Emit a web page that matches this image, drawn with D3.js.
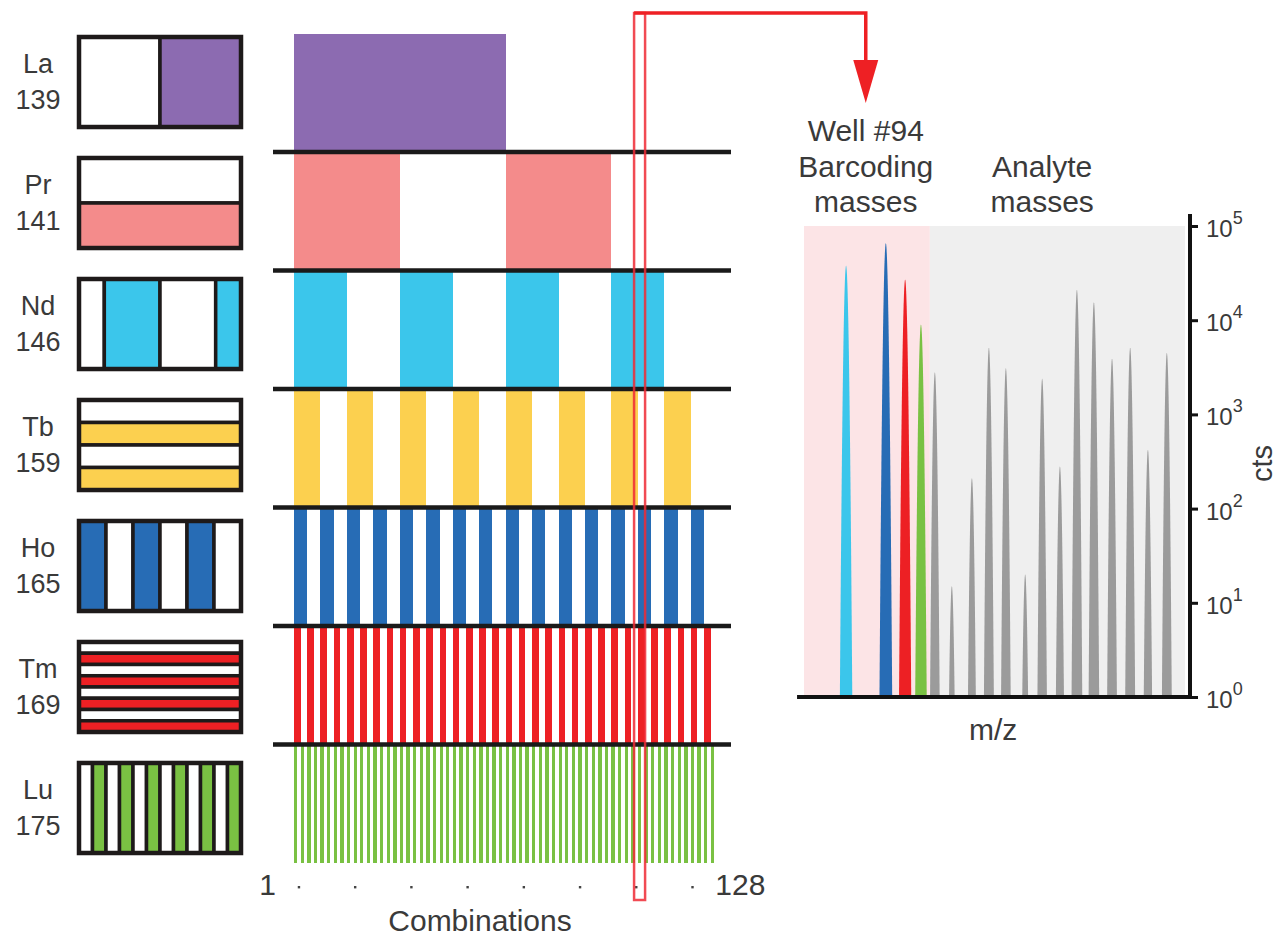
<!DOCTYPE html>
<html><head><meta charset="utf-8">
<script src="https://cdn.jsdelivr.net/npm/d3@7"></script>
<style>body{margin:0;background:#fff}</style>
</head><body><svg id="chart" width="1278" height="940"></svg>
<script>
// ---------------- data ----------------
const elements = ["La","Pr","Nd","Tb","Ho","Tm","Lu"];
const masses = ["139","141","146","159","165","169","175"];
const elementColors = ["#8C6BB1","#F48B8B","#3BC6EB","#FCD04F","#276CB5","#ED2024","#7AC143"];
const blockSizes = [64,32,16,8,4,2,1];           // barcode on/off run length per element
const combinationCount = 128;
const iconOrient = ["v","h","v","h","v","h","v"];
const iconCells = [
  [0,1],[0,1],[0,1,0,1],[0,1,0,1],[1,0,1,0,1,0],
  [0,1,0,1,0,1,0,1],[0,1,0,1,0,1,0,1,0,1,0,1]
];
const iconWeights = [null,null,[1,2.2,2.2,1],null,null,null,null];
const axisEndLabels = ["1","128"];
const axisDotCombos = [2,19,36,53,70,87,104,121];
const selectedCombo = 105;
const wellTitle = ["Well #94","Barcoding","masses"];
const analyteTitle = ["Analyte","masses"];

// spectrum (x in arbitrary m/z units 0..100)
const barcodePeakPos = [10.9,21.2,26.2,30.3];
const barcodePeakCounts = [38000,66000,27000,9000];
const barcodePeakColors = ["#3BC6EB","#276CB5","#ED2024","#7AC143"];
const analytePeakPos = [33.9,38.3,43.5,47.9,52.3,57.3,61.7,66.3,70.7,75.1,79.8,84.5,89.1,94.0];
const analytePeakCounts = [2800,15,210,5100,3100,20,2400,280,21000,15500,3900,5100,420,4500];
const barcodeRegion = [0,32.6];
const analyteRegion = [32.6,98.7];
const yTickPowers = [0,1,2,3,4,5];

// ---------------- setup ----------------
const svg = d3.select("#chart");
const FONT = "'Liberation Sans', Arial, Helvetica, sans-serif";
const TXT = "#3a3a3a";

// ---------------- left icons ----------------
const iconY = d3.scaleBand().domain(elements).range([37, 853]).paddingInner(0.256).paddingOuter(0);
const iconX = [79, 241];
const iconG = svg.append("g");
elements.forEach((el, k) => {
  const y0 = iconY(el), h = iconY.bandwidth();
  const g = iconG.append("g");
  const cells = iconCells[k];
  const w = iconWeights[k] || cells.map(() => 1);
  const total = d3.sum(w);
  const horiz = iconOrient[k] === "h";
  const len = horiz ? h : (iconX[1] - iconX[0]);
  let acc = 0;
  cells.forEach((c, i) => {
    const a = acc / total * len, b = (acc + w[i]) / total * len;
    acc += w[i];
    g.append("rect")
      .attr("x", horiz ? iconX[0] : iconX[0] + a)
      .attr("y", horiz ? y0 + a : y0)
      .attr("width", horiz ? iconX[1] - iconX[0] : b - a)
      .attr("height", horiz ? b - a : h)
      .attr("fill", c ? elementColors[k] : "#fff")
      .attr("stroke", "#1e1a1a").attr("stroke-width", 3.5);
  });
  g.append("rect").attr("x", iconX[0]).attr("y", y0)
    .attr("width", iconX[1] - iconX[0]).attr("height", h)
    .attr("fill", "none").attr("stroke", "#1e1a1a").attr("stroke-width", 4.5);
  const t = svg.append("text").attr("font-family", FONT).attr("font-size", 27)
    .attr("fill", TXT).attr("text-anchor", "middle");
  t.append("tspan").attr("x", 38).attr("y", y0 + 36).text(el);
  t.append("tspan").attr("x", 38).attr("y", y0 + 72).text(masses[k]);
});

// ---------------- barcode bars ----------------
const xc = d3.scaleBand().domain(d3.range(combinationCount)).range([294, 717.3]).padding(0);
const rowY = d3.scaleBand().domain(elements).range([33.5, 863]).padding(0);
const barG = svg.append("g");
elements.forEach((el, k) => {
  const bs = blockSizes[k];
  const starts = d3.range(0, combinationCount, 2 * bs);
  barG.selectAll(null).data(starts).enter().append("rect")
    .attr("x", d => xc(d))
    .attr("width", xc.bandwidth() * bs)
    .attr("y", rowY(el))
    .attr("height", rowY.bandwidth())
    .attr("fill", elementColors[k])
    .attr("shape-rendering", "crispEdges");
});
// separators
barG.selectAll(null).data(elements.slice(1)).enter().append("line")
  .attr("x1", 273).attr("x2", 731)
  .attr("y1", d => rowY(d)).attr("y2", d => rowY(d))
  .attr("stroke", "#1a1a1a").attr("stroke-width", 4.5);

// combination axis
svg.append("text").attr("x", xc(0) - 18).attr("y", 895).attr("text-anchor", "end")
  .attr("font-family", FONT).attr("font-size", 30).attr("fill", TXT).text(axisEndLabels[0]);
svg.append("text").attr("x", xc(combinationCount - 1) + xc.bandwidth() - 2).attr("y", 895).attr("text-anchor", "start")
  .attr("font-family", FONT).attr("font-size", 30).attr("fill", TXT).text(axisEndLabels[1]);
svg.selectAll(null).data(axisDotCombos).enter().append("rect")
  .attr("x", d => xc(d - 1) + xc.bandwidth() / 2 - 1.2).attr("y", 886)
  .attr("width", 2.4).attr("height", 2.4).attr("fill", "#444");
svg.append("text").attr("x", 480).attr("y", 931).attr("text-anchor", "middle")
  .attr("font-family", FONT).attr("font-size", 30).attr("fill", TXT).text("Combinations");

// ---------------- spectrum ----------------
const sx = d3.scaleLinear().domain([0, 100]).range([804, 1190]);
const sy = d3.scaleLog().domain([1, 1e5]).range([697, 226]);

svg.append("rect").attr("x", sx(barcodeRegion[0])).attr("y", sy(1e5))
  .attr("width", sx(barcodeRegion[1]) - sx(barcodeRegion[0])).attr("height", sy(1) - sy(1e5))
  .attr("fill", "#FCE4E6");
svg.append("rect").attr("x", sx(analyteRegion[0])).attr("y", sy(1e5))
  .attr("width", sx(analyteRegion[1]) - sx(analyteRegion[0])).attr("height", sy(1) - sy(1e5))
  .attr("fill", "#EFEFEF");

function peakPath(pos, A, sigmaPx) {
  const sigma = sigmaPx / (sx(1) - sx(0));
  const hw = sigma * Math.sqrt(2 * Math.log(A));
  const pts = d3.range(0, 41).map(i => -hw + 2 * hw * i / 40);
  const area = d3.area()
    .x(d => sx(pos + d))
    .y0(sy(1))
    .y1(d => sy(Math.max(1, A * Math.exp(-d * d / (2 * sigma * sigma)))));
  return area(pts);
}
const peakG = svg.append("g");
analytePeakPos.forEach((p, i) => {
  peakG.append("path").attr("d", peakPath(p, analytePeakCounts[i], 1.2)).attr("fill", "#9B9B9B");
});
barcodePeakPos.forEach((p, i) => {
  peakG.append("path").attr("d", peakPath(p, barcodePeakCounts[i], 1.35)).attr("fill", barcodePeakColors[i]);
});

// axes
svg.append("line").attr("x1", sx(-1.8)).attr("x2", sx(100)).attr("y1", sy(1)).attr("y2", sy(1))
  .attr("stroke", "#111").attr("stroke-width", 4);
const yAxis = d3.axisRight(sy).tickValues(yTickPowers.map(p => Math.pow(10, p))).tickSize(8).tickFormat("");
const yg = svg.append("g").attr("transform", `translate(${sx(100)},0)`).call(yAxis);
yg.select(".domain").attr("stroke", "#111").attr("stroke-width", 4).attr("d", `M0,${sy(1e5) - 12}V${sy(1) + 2}`);
yg.selectAll(".tick line").attr("stroke", "#111").attr("stroke-width", 3);
yTickPowers.forEach(p => {
  const t = svg.append("text").attr("x", sx(100) + 16).attr("y", sy(Math.pow(10, p)) + 11)
    .attr("font-family", FONT).attr("font-size", 24).attr("fill", TXT);
  t.append("tspan").text("10");
  t.append("tspan").attr("dy", -13).attr("font-size", 18).text(String(p));
});
svg.append("text").attr("transform", `translate(${sx(100) + 82},${(sy(1) + sy(1e5)) / 2 + 2}) rotate(-90)`)
  .attr("text-anchor", "middle").attr("font-family", FONT).attr("font-size", 29).attr("fill", TXT).text("cts");
svg.append("text").attr("x", sx(49)).attr("y", 740).attr("text-anchor", "middle")
  .attr("font-family", FONT).attr("font-size", 30).attr("fill", TXT).text("m/z");

// titles
const wellX = sx(16), anaX = sx(61.7);
wellTitle.forEach((s, i) => svg.append("text").attr("x", wellX).attr("y", 141 + i * 35.5)
  .attr("text-anchor", "middle").attr("font-family", FONT).attr("font-size", 30).attr("fill", TXT).text(s));
analyteTitle.forEach((s, i) => svg.append("text").attr("x", anaX).attr("y", 176.5 + i * 35.5)
  .attr("text-anchor", "middle").attr("font-family", FONT).attr("font-size", 30).attr("fill", TXT).text(s));

// ---------------- selection highlight + arrow ----------------
const selC = xc(selectedCombo - 1) + xc.bandwidth() / 2;
svg.append("rect").attr("x", selC - 5.5).attr("y", 13).attr("width", 11).attr("height", 887)
  .attr("fill", "none").attr("stroke", "#EE2A35").attr("stroke-width", 2.5).attr("opacity", 0.85);
svg.append("path").attr("d", `M${selC - 5.5},13H${wellX}V66`)
  .attr("fill", "none").attr("stroke", "#EE2024").attr("stroke-width", 3.5);
svg.append("path").attr("d", `M${wellX - 12.5},60L${wellX + 12.5},60L${wellX},103Z`).attr("fill", "#EE2024");
</script></body></html>
